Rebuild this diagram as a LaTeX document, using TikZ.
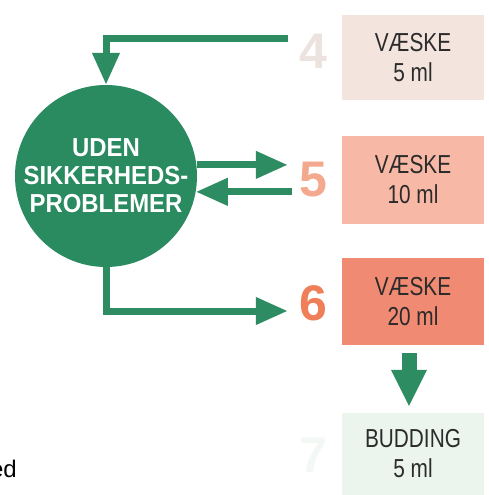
\documentclass[tikz,border=0pt]{standalone}
\usepackage{fontspec}
\setmainfont{Liberation Sans}
\newfontfamily\boxfont[FakeStretch=0.8]{Liberation Sans}
\newfontfamily\circfont[FakeStretch=0.92]{Liberation Sans}
\usetikzlibrary{arrows.meta}
\definecolor{grn}{HTML}{2A8A60}
\definecolor{arrgrn}{HTML}{2E8C63}
\definecolor{boxA}{HTML}{F3E4DD}
\definecolor{boxB}{HTML}{F7B9A5}
\definecolor{boxC}{HTML}{F08A72}
\definecolor{boxD}{HTML}{EBF5ED}
\definecolor{numA}{HTML}{ECE3DF}
\definecolor{numB}{HTML}{F4A98F}
\definecolor{numC}{HTML}{EF7F58}
\definecolor{numD}{HTML}{F4F8F5}
\definecolor{txt}{HTML}{2B2B2B}
\tikzset{
  stagebox/.style={minimum width=142pt, inner sep=0pt, align=center, text=txt,
    font=\boxfont\fontsize{26}{30}\selectfont},
  numlbl/.style={minimum width=50pt, inner sep=0pt, font=\bfseries\fontsize{50}{50}\selectfont},
  arr/.style={draw=arrgrn, line width=7pt, -{Triangle[width=26pt,length=32pt]}},
  bigarr/.style={draw=arrgrn, line width=15pt, -{Triangle[width=33pt,length=37pt]}}
}
\begin{document}
\begin{tikzpicture}[x=1pt,y=-1pt]
\useasboundingbox (0,0) rectangle (488,495);
\fill[white] (0,0) rectangle (488,495);
% boxes
\node[stagebox, fill=boxA, minimum height=85pt] (b4) at (413,57.5) {VÆSKE\\5 ml};
\node[stagebox, fill=boxB, minimum height=88pt] (b5) at (413,179.5) {VÆSKE\\10 ml};
\node[stagebox, fill=boxC, minimum height=87pt] (b6) at (413,301.5) {VÆSKE\\20 ml};
\node[stagebox, fill=boxD, minimum height=82pt] (b7) at (413,454) {BUDDING\\5 ml};
% numbers
\node[numlbl, text=numA] (n4) at (313,51) {4};
\node[numlbl, text=numB] (n5) at (313,180) {5};
\node[numlbl, text=numC] (n6) at (313,303) {6};
\node[numlbl, text=numD] (n7) at (313,455) {7};
% circle
\node[circle, fill=grn, minimum size=182pt, inner sep=0pt, text=white, align=center,
  font=\circfont\bfseries\fontsize{26}{28}\selectfont] (c) at (106,176)
  {UDEN\\SIKKERHEDS-\\PROBLEMER};
% connectors
\draw[arr] ([yshift=12.5pt]n4.west) -| (c.north);
\draw[arr] (c.7) -- (c.7 -| n5.west);
\draw[arr] ([xshift=4pt]c.-10 -| n5.west) -- (c.-10);
\draw[arr] (c.south) |- ([yshift=-8pt]n6.west);
\draw[bigarr] ([xshift=-4pt,yshift=-8pt]b6.south) -- ([xshift=-4pt,yshift=6pt]b7.north);
% stray text (cut off at the left edge, as in the reference)
\node[anchor=base east, inner sep=0pt, font=\fontsize{24}{24}\selectfont, text=black] (ed) at (17,477) {ed};
\end{tikzpicture}
\end{document}
